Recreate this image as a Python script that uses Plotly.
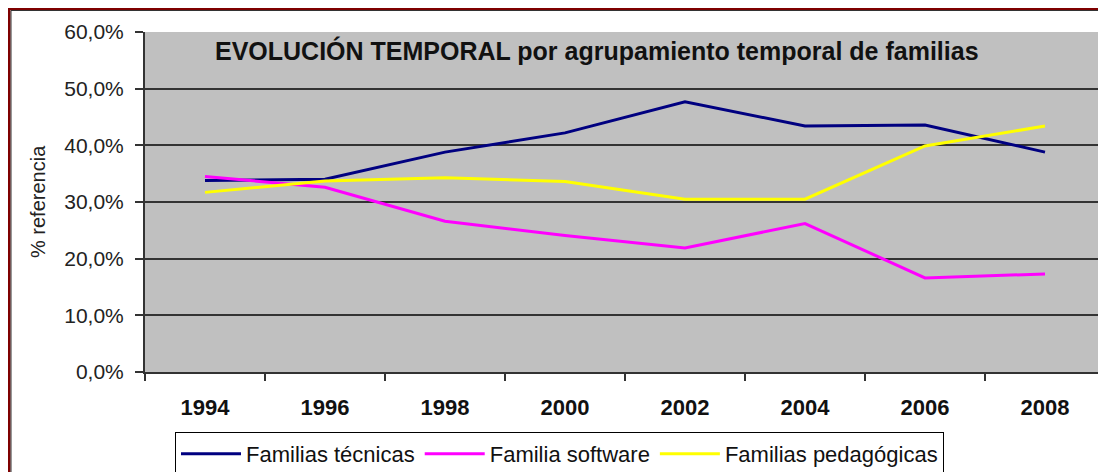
import plotly.graph_objects as go

years = ["1994", "1996", "1998", "2000", "2002", "2004", "2006", "2008"]
tecnicas = [33.8, 34.0, 38.8, 42.2, 47.7, 43.4, 43.6, 38.8]
software = [34.5, 32.6, 26.6, 24.1, 21.9, 26.2, 16.6, 17.3]
pedagogicas = [31.7, 33.7, 34.3, 33.6, 30.5, 30.5, 39.9, 43.4]

names = ["Familias técnicas", "Familia software", "Familias pedagógicas"]
colors = ["#000080", "#FF00FF", "#FFFF00"]
series = [tecnicas, software, pedagogicas]

FONT = "Arial, 'Liberation Sans', sans-serif"

fig = go.Figure()
for name, vals, col in zip(names, series, colors):
    fig.add_trace(go.Scatter(x=years, y=vals, name=name, mode="lines",
                             line=dict(color=col, width=3)))

# page has an 8px body margin; the figure is sized so it fills the window exactly
OFF = 8
W, H = 1106 - OFF, 472 - OFF
L, T, R, B = 145 - OFF, 32 - OFF, 1, 100
pw, ph = W - L - R, H - T - B

def px(x):  # x in window pixels -> paper
    return (x - OFF - L) / pw

def py(y):  # y in window pixels -> paper
    return (H - B - (y - OFF)) / ph

fig.update_layout(
    width=W, height=H,
    margin=dict(l=L, r=R, t=T, b=B, pad=0, autoexpand=False),
    paper_bgcolor="white",
    plot_bgcolor="#C0C0C0",
    separators=",.",
    font=dict(family=FONT, color="#111111"),
    showlegend=True,
    legend=dict(orientation="h", x=px(175), y=py(432), xanchor="left", yanchor="top",
                bgcolor="white", bordercolor="black", borderwidth=1,
                font=dict(size=22, color="#111111"), itemwidth=60),
    xaxis=dict(type="category", range=[-0.5, 7.5], showgrid=False,
               showline=True, linecolor="#333333", linewidth=2,
               ticks="outside", tickson="boundaries", ticklen=7, tickcolor="#333333",
               tickwidth=2, tickfont=dict(size=22, family=FONT, color="#111111", weight="bold"),
               ticklabelstandoff=15, fixedrange=True, automargin=False),
    yaxis=dict(range=[0, 60], dtick=10, tickformat=".1f", ticksuffix="%",
               showgrid=True, gridcolor="#333333", gridwidth=2,
               showline=True, linecolor="#333333", linewidth=2,
               ticks="outside", ticklen=8, tickcolor="#333333", tickwidth=2,
               tickfont=dict(size=21, family=FONT, color="#222222"),
               ticklabelstandoff=7, zeroline=False, fixedrange=True, automargin=False),
    annotations=[
        dict(text="<b>EVOLUCIÓN TEMPORAL por agrupamiento temporal de familias</b>",
             xref="paper", yref="paper", x=px(213), y=py(50), xanchor="left", yanchor="middle",
             showarrow=False, font=dict(size=25, family=FONT, color="#111111")),
        dict(text="% referencia", xref="paper", yref="paper", x=px(38), y=0.5,
             xanchor="center", yanchor="middle", textangle=-90, showarrow=False,
             font=dict(size=20, family=FONT, color="#222222")),
    ],
    shapes=[
        dict(type="rect", xref="paper", yref="paper", x0=px(9), x1=px(1130), y0=py(8.5), y1=py(500),
             line=dict(color="#7F0000", width=3), fillcolor="rgba(0,0,0,0)", layer="above"),
        dict(type="rect", xref="paper", yref="paper", x0=px(11), x1=px(1128), y0=py(10.5), y1=py(498),
             line=dict(color="#333333", width=1), fillcolor="rgba(0,0,0,0)", layer="above"),
    ],
)

fig.write_html("out.html")
